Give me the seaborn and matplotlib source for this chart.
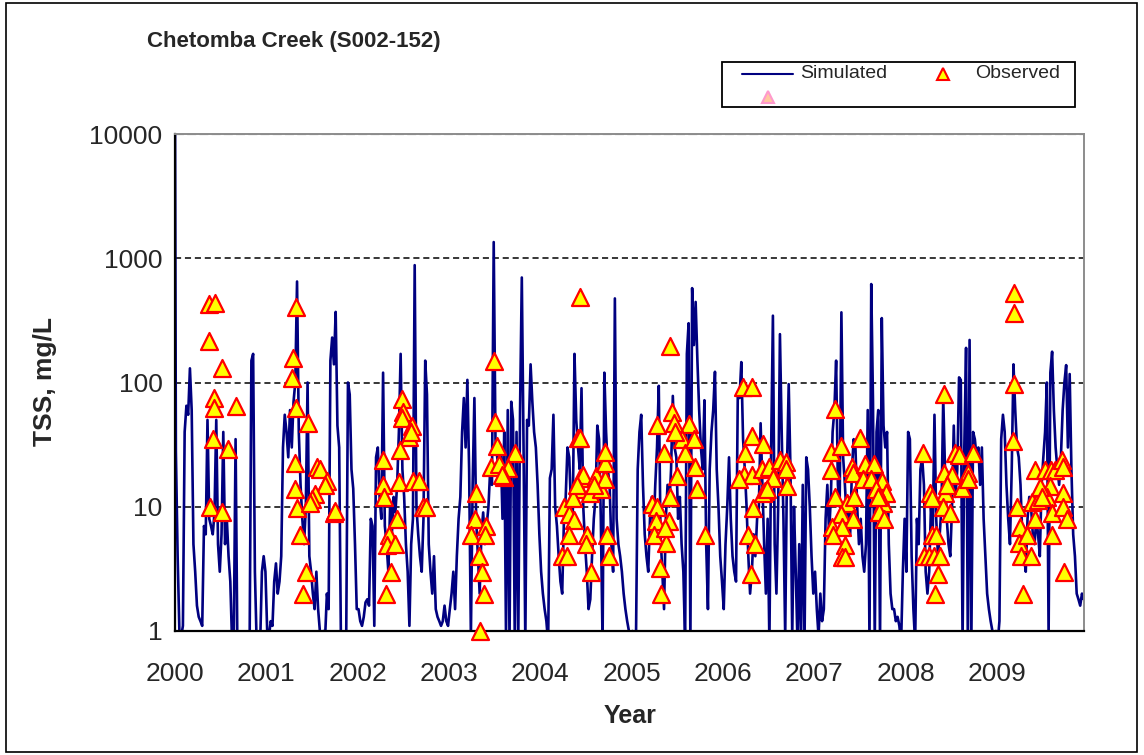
"""
Simulated vs observed TSS, Chetomba Creek (S002-152), 2000-2009.
"""
import pandas as pd
import matplotlib
matplotlib.use("Agg")
import matplotlib.pyplot as plt
from matplotlib.lines import Line2D
from matplotlib.patches import Rectangle
from matplotlib.ticker import NullLocator
import seaborn as sns

#================================
# DATA
#================================
years = [2000, 2001, 2002, 2003, 2004, 2005, 2006, 2007, 2008, 2009]
year_labels = [str(y) for y in years]
y_ticks = [1, 10, 100, 1000, 10000]
y_tick_labels = ["1", "10", "100", "1000", "10000"]

# simulated TSS (mg/L), one value per week of each year
sim_start = 20000  # day-one warm-up value, runs off the top
sim_2000 = [28, 4, 1, 0.9, 1.1, 40, 65, 55, 130, 60, 5, 3, 1.6, 1.3, 1.2, 1.1,
            7, 6, 50, 8, 7, 6, 9, 50, 5, 3, 6, 40, 5, 8, 4, 2.5, 0.8, 1, 35, 0.8,
            0.8, 0.8, 0.8, 0.8, 0.8, 0.8, 0.8, 150, 170, 3, 0.8, 0.8, 0.8, 3, 4, 3]
sim_2001 = [1, 0.9, 1.2, 1.1, 2.5, 3.5, 2, 2.5, 4, 30, 55, 40, 25, 60, 30, 70,
            100, 650, 40, 15, 8, 5, 10, 100, 4, 3, 2, 1.5, 3, 1.5, 1, 0.9, 1, 0.9,
            2, 1.5, 150, 230, 140, 370, 45, 30, 0.8, 0.8, 0.8, 0.9, 100, 80, 20,
            14, 5, 1.5]
sim_2002 = [1.5, 1.2, 1.1, 1.3, 1.7, 1.8, 1.6, 8, 7, 1.1, 25, 30, 12, 8, 120, 7,
            5, 3, 10, 6, 12, 9, 15, 40, 170, 20, 12, 5, 3, 1.1, 5, 8, 880, 10, 6,
            4, 3, 8, 150, 80, 5, 3, 2, 4, 1.5, 1.3, 1.2, 1.1, 1.2, 1.6, 1.2, 1.1]
sim_2003 = [1.5, 2, 3, 1.5, 4, 8, 12, 40, 75, 30, 105, 20, 0.9, 15, 75, 8, 4, 2,
            6, 9, 5, 7, 10, 20, 15, 1350, 35, 25, 20, 30, 8, 40, 0.9, 60, 0.8, 70,
            50, 0.8, 40, 0.9, 60, 700, 30, 0.8, 50, 45, 140, 70, 40, 30, 15, 6]
sim_2004 = [3, 2, 1.5, 1.2, 0.8, 17, 20, 55, 10, 7, 4, 2.5, 2, 8, 12, 30, 25, 10,
            8, 170, 50, 30, 20, 90, 10, 5, 3, 1.5, 1.8, 4, 8, 12, 45, 35, 8, 0.8,
            120, 40, 20, 15, 5, 3, 475, 8, 5, 4, 3, 2, 1.5, 1.2, 1, 0.9]
sim_2005 = [1, 0.9, 0.8, 20, 40, 55, 15, 6, 4, 3, 8, 12, 6, 15, 30, 94, 6, 3, 1.5,
            8, 15, 10, 20, 78, 30, 25, 8, 12, 5, 3, 0.8, 170, 300, 0.8, 575, 200,
            445, 150, 60, 30, 20, 72, 5, 1.5, 20, 40, 60, 122, 20, 10, 4, 2.5]
sim_2006 = [1.5, 5, 10, 25, 8, 4, 3, 2.5, 80, 75, 146, 35, 20, 10, 4, 2, 3, 6, 4,
            8, 10, 47, 15, 5, 2, 8, 0.8, 30, 345, 5, 2, 10, 245, 40, 8, 0.9, 20,
            97, 20, 0.9, 10, 3, 0.8, 5, 0.8, 15, 0.8, 25, 20, 10, 4, 2]
sim_2007 = [3, 1.5, 0.9, 2, 1.2, 1.5, 8, 15, 6, 12, 40, 60, 150, 15, 10, 367, 25,
            15, 8, 12, 6, 20, 35, 30, 10, 5, 8, 4, 3, 5, 60, 0.8, 620, 70, 0.8, 40,
            60, 0.8, 330, 45, 30, 40, 5, 2, 1.5, 1.5, 1.2, 1.3, 1.1, 0.8, 3, 8]
sim_2008 = [3, 40, 35, 4, 1.5, 0.8, 8, 5, 20, 25, 15, 3, 2, 3, 10, 6, 55, 8, 4, 6,
            10, 75, 20, 8, 5, 4, 10, 45, 12, 20, 110, 105, 0.8, 30, 190, 0.8, 220,
            0.8, 40, 35, 25, 30, 15, 30, 8, 4, 2, 1.5, 1.2, 1, 0.9, 1]
sim_2009 = [0.8, 1.2, 35, 55, 40, 15, 8, 5, 20, 140, 60, 30, 25, 15, 6, 4, 3, 8,
            12, 10, 6, 5, 8, 6, 4, 15, 25, 40, 100, 0.9, 120, 177, 60, 30, 20, 15,
            25, 60, 100, 138, 30, 117, 20, 6, 4, 2, 1.8, 1.6, 2, 1.8]

# observed grab samples: (decimal year, TSS mg/L)
obs_2000 = [(2000.37, 430), (2000.44, 440), (2000.37, 215), (2000.52, 130),
            (2000.43, 75), (2000.43, 62), (2000.67, 65), (2000.42, 35),
            (2000.58, 29), (2000.38, 10), (2000.51, 9.1)]
obs_2001 = [(2001.32, 407), (2001.29, 158), (2001.28, 109), (2001.33, 62),
            (2001.46, 47), (2001.31, 22.6), (2001.31, 13.8), (2001.34, 9.8),
            (2001.37, 5.9), (2001.43, 3.0), (2001.40, 2.0), (2001.56, 21),
            (2001.59, 20), (2001.66, 16), (2001.64, 15), (2001.53, 12.7),
            (2001.50, 11.5), (2001.48, 10.7), (2001.74, 8.9), (2001.75, 9.2)]
obs_2002 = [(2002.28, 23.8), (2002.28, 15), (2002.29, 11.9), (2002.43, 7.9),
            (2002.34, 5.9), (2002.32, 4.9), (2002.41, 5.0), (2002.37, 3.0),
            (2002.31, 2.0), (2002.49, 73), (2002.50, 58), (2002.49, 52),
            (2002.60, 45), (2002.56, 36.6), (2002.58, 40), (2002.46, 28.8),
            (2002.45, 15.9), (2002.61, 16), (2002.67, 16), (2002.72, 10),
            (2002.75, 10)]
obs_2003 = [(2003.30, 13), (2003.29, 7.9), (2003.24, 5.9), (2003.41, 7.0),
            (2003.40, 5.9), (2003.33, 4.0), (2003.36, 3.0), (2003.38, 2.0),
            (2003.34, 1.0), (2003.49, 150), (2003.50, 48), (2003.53, 31),
            (2003.72, 27), (2003.46, 21), (2003.55, 22), (2003.65, 20.4),
            (2003.60, 17.4), (2003.58, 18)]
obs_2004 = [(2004.43, 485), (2004.26, 10), (2004.32, 8.7), (2004.37, 7.8),
            (2004.24, 4.0), (2004.29, 4.0), (2004.31, 5.9), (2004.41, 35.5),
            (2004.44, 35.5), (2004.44, 17), (2004.47, 18), (2004.42, 13.8),
            (2004.36, 11.7), (2004.51, 5.9), (2004.50, 5.0), (2004.56, 3.0),
            (2004.61, 17.6), (2004.55, 12.8), (2004.66, 13.8), (2004.71, 16.6),
            (2004.71, 22.6), (2004.71, 27.7), (2004.73, 5.9), (2004.75, 4.0),
            (2004.40, 15), (2004.59, 15)]
obs_2005 = [(2005.42, 197), (2005.28, 45.5), (2005.35, 27), (2005.44, 58),
            (2005.46, 47), (2005.63, 46), (2005.55, 35), (2005.59, 27),
            (2005.68, 35), (2005.50, 17.6), (2005.69, 20.8), (2005.72, 14),
            (2005.80, 5.9), (2005.22, 10.5), (2005.28, 10), (2005.27, 7.7),
            (2005.41, 7.7), (2005.25, 5.9), (2005.38, 5.1), (2005.37, 6.7),
            (2005.31, 3.2), (2005.32, 2.0), (2005.42, 12), (2005.48, 40)]
obs_2006 = [(2006.22, 92.5), (2006.32, 92.5), (2006.32, 37), (2006.24, 27),
            (2006.44, 32), (2006.23, 18), (2006.32, 18), (2006.43, 20),
            (2006.50, 21), (2006.55, 17), (2006.63, 24), (2006.69, 23),
            (2006.69, 20), (2006.46, 13.5), (2006.44, 12.8), (2006.70, 14.7),
            (2006.33, 9.7), (2006.28, 5.9), (2006.35, 5.0), (2006.31, 2.9),
            (2006.18, 16.6), (2006.48, 14)]
obs_2007 = [(2007.23, 61), (2007.18, 27.7), (2007.29, 31), (2007.18, 19.7),
            (2007.50, 36), (2007.41, 21), (2007.43, 18.7), (2007.56, 22),
            (2007.65, 22), (2007.54, 16.6), (2007.62, 16.6), (2007.74, 16),
            (2007.79, 13), (2007.23, 11.9), (2007.36, 10.7), (2007.44, 12),
            (2007.75, 10.7), (2007.71, 9), (2007.77, 7.9), (2007.29, 8.7),
            (2007.42, 7.9), (2007.19, 6.9), (2007.30, 6.9), (2007.21, 5.9),
            (2007.34, 4.9), (2007.31, 3.95), (2007.34, 3.95), (2007.68, 14),
            (2007.70, 12)]
obs_2008 = [(2008.42, 81), (2008.19, 27), (2008.54, 27), (2008.59, 26),
            (2008.74, 27), (2008.42, 18.7), (2008.51, 18), (2008.69, 18.7),
            (2008.62, 14.1), (2008.43, 12.8), (2008.27, 12.8), (2008.29, 11.7),
            (2008.41, 10), (2008.49, 8.9), (2008.29, 5.9), (2008.33, 5.9),
            (2008.20, 4.0), (2008.26, 4.0), (2008.31, 4.0), (2008.38, 4.0),
            (2008.36, 2.9), (2008.32, 2.0), (2008.68, 16.6), (2008.45, 15)]
obs_2009 = [(2009.19, 523), (2009.19, 365), (2009.19, 98), (2009.18, 34),
            (2009.22, 10), (2009.25, 6.9), (2009.24, 5.1), (2009.26, 4.0),
            (2009.38, 4.0), (2009.29, 2.0), (2009.33, 5.9), (2009.42, 7.9),
            (2009.39, 11), (2009.45, 11.3), (2009.42, 19.7), (2009.53, 19.7),
            (2009.59, 19.7), (2009.64, 19.7), (2009.71, 23.7), (2009.73, 21),
            (2009.58, 14.7), (2009.55, 12), (2009.73, 12.8), (2009.60, 8.9),
            (2009.73, 10), (2009.77, 7.9), (2009.60, 5.9), (2009.74, 3.0),
            (2009.47, 14.5), (2009.50, 12)]

#================================
# BUILD TABLES
#================================
sim_by_year = [sim_2000, sim_2001, sim_2002, sim_2003, sim_2004,
               sim_2005, sim_2006, sim_2007, sim_2008, sim_2009]
rows = [(2000.0, sim_start)]
for yr, vals in zip(years, sim_by_year):
    for k, v in enumerate(vals):
        rows.append((yr + (k + 0.5) / 52, v))
sim_df = pd.DataFrame(rows, columns=["year", "tss"])

obs_all = (obs_2000 + obs_2001 + obs_2002 + obs_2003 + obs_2004 +
           obs_2005 + obs_2006 + obs_2007 + obs_2008 + obs_2009)
obs_df = pd.DataFrame(obs_all, columns=["year", "tss"])

#================================
# PLOT
#================================
sns.set_style("white")
plt.rcParams["font.family"] = ["Liberation Sans", "DejaVu Sans"]

W, H = 1144, 755
fig = plt.figure(figsize=(W / 100, H / 100), dpi=100)
ax = fig.add_axes([175 / W, 1 - 631 / H, (1084 - 175) / W, (631 - 134) / H])

navy = "#000080"
sns.lineplot(data=sim_df, x="year", y="tss", ax=ax, color=navy, linewidth=1.9,
             estimator=None, sort=False, legend=False, zorder=2)
sns.scatterplot(data=obs_df, x="year", y="tss", ax=ax, marker="^", s=150,
                color="#FFFF00", edgecolor="#FF0000", linewidth=1.6,
                legend=False, zorder=3, clip_on=False)

ax.set_yscale("log")
ax.set_ylim(1, 10000)
ax.set_xlim(2000, 2009.955)
ax.yaxis.set_minor_locator(NullLocator())
ax.set_yticks(y_ticks, y_tick_labels)
ax.set_xticks(years, year_labels)

# dashed gridlines at decades
for v in y_ticks[1:4]:
    ax.axhline(v, color="black", lw=1.1, ls=(0, (4, 2.5)), zorder=1)
ax.axhline(10000, color="#a0a0a0", lw=1.6, ls=(0, (4, 1.5)), zorder=1)

for side in ["left", "bottom"]:
    ax.spines[side].set_color("black")
    ax.spines[side].set_linewidth(1.6)
for side in ["top", "right"]:
    ax.spines[side].set_color("#8c8c8c")
    ax.spines[side].set_linewidth(1.4)

ax.tick_params(axis="both", which="major", direction="out", length=6, width=1.3,
               color="black", labelsize=19, top=False, right=False)
ax.tick_params(axis="x", pad=16)
ax.tick_params(axis="y", pad=3)
ax.set_xlabel("")
ax.set_ylabel("")

# texts
fig.text(147 / W, 1 - 42 / H, "Chetomba Creek (S002-152)", fontsize=16,
         fontweight="bold", ha="left", va="center")
fig.text(630 / W, 1 - 716 / H, "Year", fontsize=18, fontweight="bold",
         ha="center", va="center")
fig.text(45 / W, 1 - 382 / H, "TSS, mg/L", fontsize=19, fontweight="bold",
         ha="center", va="center", rotation=90)

# hand-made legend box (matches the spreadsheet look)
fig.add_artist(Rectangle((722 / W, 1 - 107 / H), (1075 - 722) / W, 45 / H,
                         transform=fig.transFigure, fill=False, ec="black", lw=1.3))
fig.add_artist(Line2D([742 / W, 793 / W], [1 - 74 / H] * 2, color=navy, lw=1.5,
                      transform=fig.transFigure))
fig.text(800 / W, 1 - 74 / H, "Simulated", fontsize=14, ha="left", va="center")
fig.add_artist(Line2D([943 / W], [1 - 74 / H], marker="^", ms=8, mfc="#FFFF00",
                      mec="#FF0000", mew=1.5, transform=fig.transFigure))
fig.text(975 / W, 1 - 74 / H, "Observed", fontsize=14, ha="left", va="center")
fig.add_artist(Line2D([768 / W], [1 - 97 / H], marker="^", ms=8, mfc="#FFC8A0",
                      mec="#FF99CC", mew=1.5, transform=fig.transFigure))

# outer chart frame
fig.add_artist(Rectangle((6 / W, 3 / H), (1137 - 6) / W, (752 - 3) / H,
                         transform=fig.transFigure, fill=False, ec="black", lw=1.2))

fig.savefig("out.png", dpi=100)
plt.close(fig)
